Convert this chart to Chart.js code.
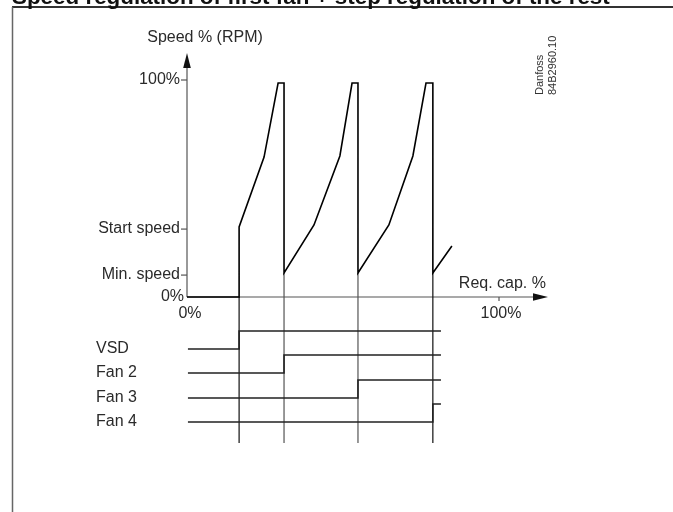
<!DOCTYPE html>
<html>
<head>
<meta charset="utf-8">
<script src="https://cdn.jsdelivr.net/npm/chart.js@4/dist/chart.umd.min.js"></script>
<style>
  html, body { margin: 0; padding: 0; background: #fff; }
  #wrap { position: relative; width: 673px; height: 512px; }
  canvas { display: block; }
</style>
</head>
<body>
<div id="wrap"><canvas id="c" width="673" height="512"></canvas></div>
<script>
// ---------------- data ----------------
const chartTitle = 'Speed regulation of first fan + step regulation of the rest';
const yAxisTitle = 'Speed % (RPM)';
const xAxisTitle = 'Req. cap. %';
const docId = ['Danfoss', '84B2960.10'];

// speed curve (x = required capacity %, y = speed %)
const capPoints   = [0, 16.7, 16.7, 24.7, 29.2, 31.1, 31.1, 40.7, 49.0, 52.9, 54.8, 54.8, 64.7, 72.4, 76.6, 78.8, 78.8, 84.9];
const speedPoints = [0, 0,    32.3, 64.5, 98.6, 98.6, 11.1, 33.2, 65.0, 98.6, 98.6, 11.1, 33.2, 65.0, 98.6, 98.6, 11.1, 23.5];

const speedTickValues = [0, 10.1, 31.3, 100];
const speedTickLabels = ['0%', 'Min. speed', 'Start speed', '100%'];
const capTickValues = [0, 100];
const capTickLabels = ['0%', '100%'];

// fan state diagram
const fanNames    = ['VSD', 'Fan 2', 'Fan 3', 'Fan 4'];
const fanSwitchOn = [16.7, 31.1, 54.8, 78.8];
const fanStart = 0.3;
const fanEnd   = 81.4;

// ---------------- layout constants ----------------
const AREA = { left: 187, right: 499, top: 80, bottom: 297 };
const AREA_H = AREA.bottom - AREA.top;
const FAN_LOW_PX = [349, 373, 398, 422];
const FAN_STEP_PX = 18;
const GUIDE_BOTTOM_PX = 443;
const Y_ARROW_TIP = 112.4;   // speed units
const X_ARROW_TIP = 115.7;   // capacity units

// ---------------- datasets ----------------
const datasets = [];
datasets.push({
  label: 'Speed',
  data: capPoints.map((x, i) => ({ x: x, y: speedPoints[i] })),
  borderColor: '#000', borderWidth: 1.6, showLine: true, pointRadius: 0,
  fill: false, tension: 0, yAxisID: 'y', clip: false, order: 1
});

// guide lines through switching points (speed scale, extended below axis)
const guideBottom = (AREA.bottom - GUIDE_BOTTOM_PX) / AREA_H * 100;
fanSwitchOn.forEach((sx, i) => {
  const vals = capPoints.map((x, k) => x === sx ? speedPoints[k] : null).filter(v => v !== null);
  const top = Math.min.apply(null, vals);
  datasets.push({
    label: 'guide' + i,
    data: [{ x: sx, y: top }, { x: sx, y: guideBottom }],
    borderColor: i % 3 === 0 ? '#111' : '#555', borderWidth: 1.2, showLine: true, pointRadius: 0,
    yAxisID: 'y', clip: false, order: 2
  });
});

const fanScales = {};
fanNames.forEach((name, i) => {
  const id = 'f' + i;
  const pxPerUnit = FAN_STEP_PX;
  const min = (FAN_LOW_PX[i] - AREA.bottom) / pxPerUnit;
  fanScales[id] = { type: 'linear', display: false, min: min, max: min + AREA_H / pxPerUnit };
  datasets.push({
    label: name,
    data: [{ x: fanStart, y: 0 }, { x: fanSwitchOn[i], y: 0 }, { x: fanSwitchOn[i], y: 1 }, { x: fanEnd, y: 1 }],
    borderColor: '#222', borderWidth: 1.6, showLine: true, pointRadius: 0,
    yAxisID: id, clip: false, order: 1
  });
});

// ---------------- drawing plugin ----------------
const FONT = '"Liberation Sans", Arial, Helvetica, sans-serif';
const decor = {
  id: 'decor',
  beforeDatasetsDraw(chart) {
    const ctx = chart.ctx;
    const xs = chart.scales.x, ys = chart.scales.y;
    const x0 = xs.getPixelForValue(0), y0 = ys.getPixelForValue(0);
    ctx.save();
    // frame
    ctx.strokeStyle = '#333'; ctx.lineWidth = 2;
    ctx.beginPath(); ctx.moveTo(12, 7); ctx.lineTo(673, 7); ctx.stroke();
    ctx.strokeStyle = '#666'; ctx.lineWidth = 1.5;
    ctx.beginPath(); ctx.moveTo(12.5, 7); ctx.lineTo(12.5, 512); ctx.stroke();
    // title (cut at top)
    ctx.fillStyle = '#111';
    ctx.font = 'bold 22.4px ' + FONT;
    ctx.textAlign = 'left'; ctx.textBaseline = 'alphabetic';
    ctx.fillText(chartTitle, 12, 4);

    // axes
    ctx.strokeStyle = '#555'; ctx.lineWidth = 1.2;
    const yTip = ys.getPixelForValue(Y_ARROW_TIP);
    const xTip = xs.getPixelForValue(X_ARROW_TIP);
    ctx.beginPath(); ctx.moveTo(x0, y0); ctx.lineTo(x0, yTip + 10); ctx.stroke();
    ctx.beginPath(); ctx.moveTo(x0, y0); ctx.lineTo(xTip - 10, y0); ctx.stroke();
    ctx.fillStyle = '#111';
    ctx.beginPath(); ctx.moveTo(x0, yTip); ctx.lineTo(x0 - 3.8, yTip + 15); ctx.lineTo(x0 + 3.8, yTip + 15); ctx.closePath(); ctx.fill();
    ctx.beginPath(); ctx.moveTo(xTip, y0); ctx.lineTo(xTip - 15, y0 - 3.8); ctx.lineTo(xTip - 15, y0 + 3.8); ctx.closePath(); ctx.fill();

    // y ticks and labels
    ctx.font = '16px ' + FONT;
    ctx.fillStyle = '#2a2a2a';
    ctx.textAlign = 'right'; ctx.textBaseline = 'middle';
    speedTickValues.forEach((v, i) => {
      const py = ys.getPixelForValue(v);
      if (v !== 0) {
        ctx.strokeStyle = '#555'; ctx.lineWidth = 1.2;
        ctx.beginPath(); ctx.moveTo(x0 - 6, py); ctx.lineTo(x0, py); ctx.stroke();
        ctx.fillText(speedTickLabels[i], x0 - 7, py);
      } else {
        ctx.fillText(speedTickLabels[i], x0 - 3, py);
      }
    });
    // x ticks and labels
    ctx.textAlign = 'center'; ctx.textBaseline = 'middle';
    capTickValues.forEach((v, i) => {
      const px = xs.getPixelForValue(v);
      if (v !== 0) {
        ctx.strokeStyle = '#555'; ctx.lineWidth = 1.2;
        ctx.beginPath(); ctx.moveTo(px, y0); ctx.lineTo(px, y0 + 4); ctx.stroke();
        ctx.fillText(capTickLabels[i], px + 2, y0 + 17);
      } else {
        ctx.fillText(capTickLabels[i], px + 3, y0 + 17);
      }
    });
    // axis titles
    ctx.textAlign = 'right';
    ctx.fillText(xAxisTitle, xTip - 2, y0 - 13);
    ctx.textAlign = 'center';
    ctx.fillText(yAxisTitle, x0 + 18, 38);

    // fan labels
    ctx.textAlign = 'left'; ctx.textBaseline = 'middle';
    fanNames.forEach((name, i) => {
      const py = chart.scales['f' + i].getPixelForValue(0);
      ctx.fillText(name, 96, py);
    });

    // document id (rotated)
    ctx.font = '11px ' + FONT;
    ctx.fillStyle = '#333';
    ctx.textAlign = 'left'; ctx.textBaseline = 'alphabetic';
    [[543, docId[0]], [556, docId[1]]].forEach(([px, t]) => {
      ctx.save(); ctx.translate(px, 95); ctx.rotate(-Math.PI / 2); ctx.fillText(t, 0, 0); ctx.restore();
    });
    ctx.restore();
  }
};

const scales = Object.assign({
  x: { type: 'linear', display: false, min: 0, max: 100 },
  y: { type: 'linear', display: false, min: 0, max: 100 }
}, fanScales);

new Chart(document.getElementById('c'), {
  type: 'scatter',
  data: { datasets: datasets },
  options: {
    responsive: false,
    animation: false,
    events: [],
    layout: { padding: { left: AREA.left, right: 673 - AREA.right, top: AREA.top, bottom: 512 - AREA.bottom } },
    plugins: { legend: { display: false }, title: { display: false }, tooltip: { enabled: false } },
    scales: scales
  },
  plugins: [decor]
});
</script>
</body>
</html>
